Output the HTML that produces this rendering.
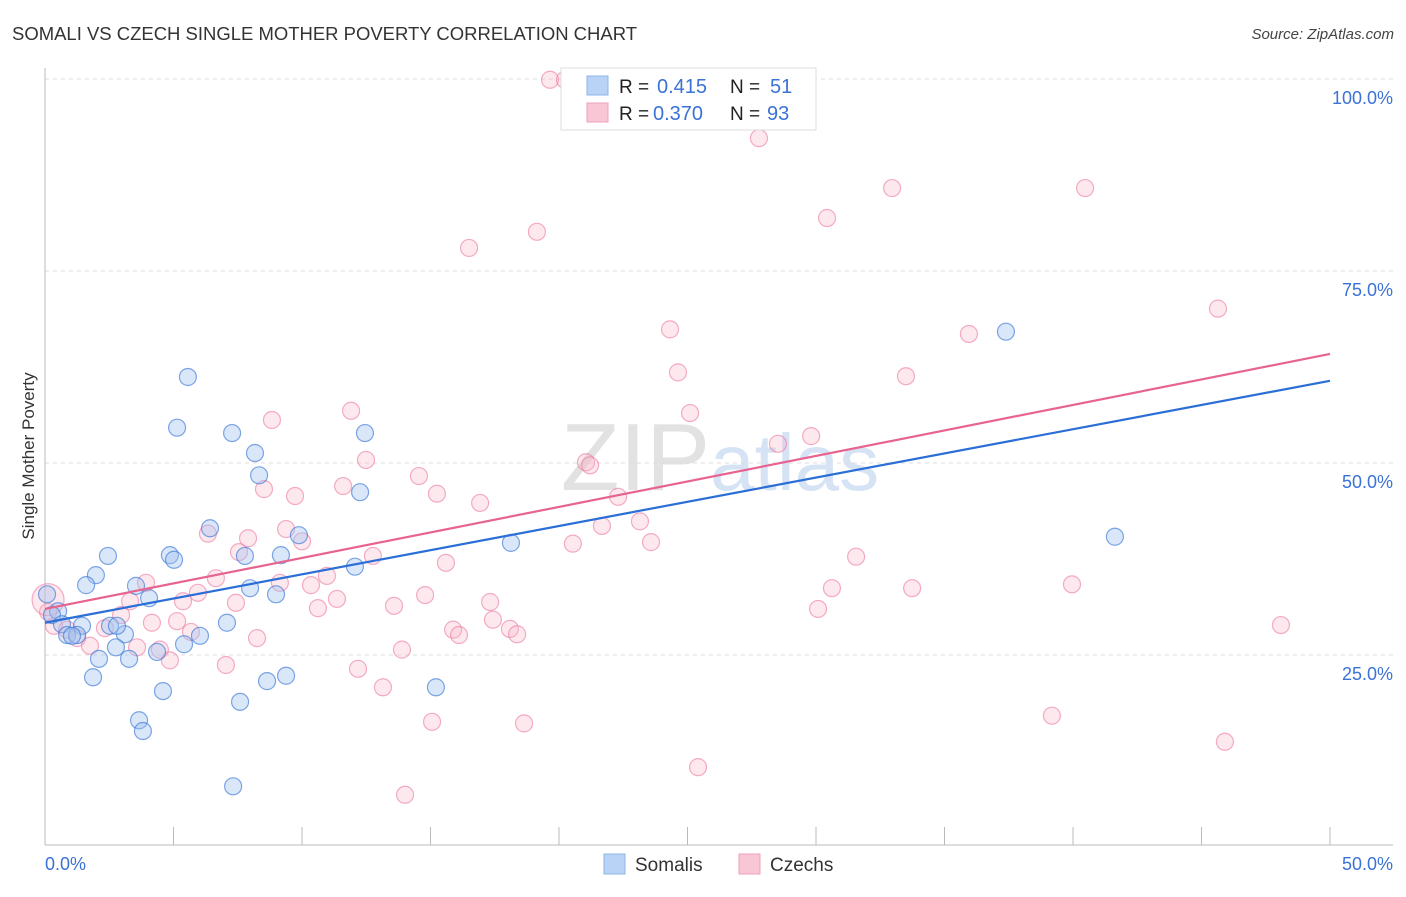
<!DOCTYPE html>
<html><head><meta charset="utf-8"><style>
body{margin:0;background:#fff;font-family:"Liberation Sans",sans-serif;}
svg text{font-family:"Liberation Sans",sans-serif;}
</style></head><body>
<svg id="chart" width="1406" height="892">
<text x="12" y="40" font-size="18" fill="#333" textLength="625" lengthAdjust="spacingAndGlyphs">SOMALI VS CZECH SINGLE MOTHER POVERTY CORRELATION CHART</text>
<text x="1394" y="39" font-size="15" fill="#444" font-style="italic" text-anchor="end">Source: ZipAtlas.com</text>
<text x="720" y="490" font-size="96" fill="#e2e2e2" text-anchor="middle" font-family="Liberation Serif">ZIP<tspan fill="#d5e3f5" font-family="Liberation Sans" font-size="80">atlas</tspan></text>
<text transform="translate(34,456) rotate(-90)" font-size="17" fill="#333" text-anchor="middle">Single Mother Poverty</text>
<g id="grid"></g><g id="pts"></g><g id="lines"></g>
<g>
<rect x="561" y="68" width="255" height="62" fill="#fff" stroke="#ddd"/>
<rect x="587" y="76" width="21" height="19" fill="#b8d3f5" stroke="#8fb4e8"/>
<rect x="587" y="103" width="21" height="19" fill="#f9c6d6" stroke="#f0a0ba"/>
<text x="619" y="93" font-size="19" fill="#222">R =</text>
<text x="657" y="93" font-size="20" fill="#3a72d6">0.415</text>
<text x="730" y="93" font-size="19" fill="#222">N =</text>
<text x="770" y="93" font-size="20" fill="#3a72d6">51</text>
<text x="619" y="120" font-size="19" fill="#222">R =</text>
<text x="653" y="120" font-size="20" fill="#3a72d6">0.370</text>
<text x="730" y="120" font-size="19" fill="#222">N =</text>
<text x="767" y="120" font-size="20" fill="#3a72d6">93</text>
</g>
<g>
<rect x="604" y="854" width="21" height="20" fill="#b8d3f5" stroke="#8fb4e8"/>
<text x="635" y="871" font-size="19" fill="#333">Somalis</text>
<rect x="739" y="854" width="21" height="20" fill="#f9c6d6" stroke="#f0a0ba"/>
<text x="770" y="871" font-size="19" fill="#333">Czechs</text>
</g>
<text x="45" y="870" font-size="18" fill="#3a72d6">0.0%</text>
<text x="1393" y="870" font-size="18" fill="#3a72d6" text-anchor="end">50.0%</text>
</svg>
<script>
const yTicks=[25,50,75,100];
const yTickLabels=["25.0%","50.0%","75.0%","100.0%"];
const somaliX=[5.56,5.14,7.28,12.45,8.17,8.33,12.26,6.42,9.88,18.13,41.63,37.39,2.45,4.86,5.02,7.78,9.18,12.06,1.98,1.60,3.54,4.05,7.98,8.99,0.08,0.51,0.27,0.66,1.44,2.53,3.11,0.86,1.25,1.05,2.80,5.41,4.36,6.03,7.08,2.76,2.10,3.27,1.87,4.59,8.64,9.38,7.59,15.21,3.66,3.81,7.32];
const somaliY=[61.2,54.6,53.9,53.9,51.3,48.4,46.2,41.5,40.6,39.6,40.4,67.1,37.9,38.0,37.4,37.9,38.0,36.5,35.4,34.1,34.0,32.4,33.7,32.9,32.9,30.7,30.2,29.0,28.8,28.8,27.7,27.6,27.6,27.5,28.8,26.4,25.4,27.5,29.2,26.0,24.5,24.5,22.1,20.3,21.6,22.3,18.9,20.8,16.5,15.1,7.9];
const czechX=[19.65,20.23,23.35,24.94,27.78,32.96,40.47,30.43,19.14,16.50,45.64,24.32,35.95,24.63,33.50,25.10,8.83,11.91,28.52,29.81,12.49,21.05,21.21,14.55,8.52,9.73,15.25,11.60,16.93,22.30,6.34,9.38,7.90,10.00,23.15,21.67,23.58,20.54,7.55,12.76,15.60,31.56,6.65,3.93,9.14,10.35,10.97,30.62,33.74,39.96,3.31,5.37,7.43,11.36,17.32,13.58,14.79,30.08,10.62,5.95,2.96,5.14,4.16,17.43,15.88,16.11,18.09,18.37,2.33,0.35,0.12,0.86,1.25,1.75,3.58,4.47,4.86,5.68,8.25,7.04,13.89,12.18,13.15,48.09,39.18,45.91,15.06,18.64,25.41,14.01,0.12];
const czechY=[99.9,99.9,99.9,99.9,92.3,85.8,85.8,81.9,80.1,78.0,70.1,67.4,66.8,61.8,61.3,56.5,55.6,56.8,52.5,53.5,50.4,50.1,49.7,48.3,46.6,45.7,46.0,47.0,44.8,45.6,40.8,41.4,40.2,39.8,42.4,41.8,39.7,39.5,38.4,37.9,37.0,37.8,35.0,34.4,34.4,34.1,35.3,33.7,33.7,34.2,32.0,32.0,31.8,32.3,31.9,31.4,32.8,31.0,31.1,33.1,30.2,29.4,29.2,29.6,28.3,27.6,28.4,27.7,28.5,28.8,30.6,28.3,27.2,26.2,26.0,25.7,24.3,28.0,27.2,23.7,25.7,23.2,20.8,28.9,17.1,13.7,16.3,16.1,10.4,6.8,32.2];
const somaliTrend=[29.2,60.7];
const czechTrend=[31.0,64.2];
const X0=45,X1=1330,Y0=847,YH=768;
const sx=v=>X0+v/50*(X1-X0);
const sy=v=>Y0-v/100*YH;
const NS="http://www.w3.org/2000/svg";
function mk(t,a,p){const e=document.createElementNS(NS,t);for(const k in a)e.setAttribute(k,a[k]);p.appendChild(e);return e;}
const grid=document.getElementById('grid');
yTicks.forEach((t,i)=>{
 const l=mk('line',{x1:45,x2:1393,y1:sy(t),y2:sy(t),stroke:'#ddd','stroke-dasharray':'4,4'},grid);
 
 
 const tx=mk('text',{x:1393,y:sy(t)+25,'font-size':18,fill:'#3a72d6','text-anchor':'end'},grid);
 tx.textContent=yTickLabels[i];
 
 
});
const ax=mk('line',{x1:45,x2:1393,y1:845,y2:845,stroke:'#bbb'},grid);


const ay=mk('line',{x1:45,x2:45,y1:68,y2:845,stroke:'#bbb'},grid);


for(let i=0;i<=10;i++){
 const t=mk('line',{x1:sx(i*5),x2:sx(i*5),y1:827,y2:845,stroke:'#bbb'},grid);
 
 
}
const pts=document.getElementById('pts');
czechX.forEach((v,i)=>{
 const c=mk('circle',{cx:sx(v),cy:sy(czechY[i]),r:i==czechX.length-1?16:8.5,fill:'rgba(248,180,200,0.3)',stroke:'rgba(236,120,160,0.6)','stroke-width':1.2},pts);
 
 
});
somaliX.forEach((v,i)=>{
 const c=mk('circle',{cx:sx(v),cy:sy(somaliY[i]),r:8.5,fill:'rgba(160,195,240,0.4)',stroke:'rgba(60,120,215,0.65)','stroke-width':1.2},pts);
 
 
});
const lines=document.getElementById('lines');
const lb=mk('line',{x1:sx(0),y1:sy(somaliTrend[0]),x2:sx(50),y2:sy(somaliTrend[1]),stroke:'#2a6ed6','stroke-width':2.2},lines);


const lp=mk('line',{x1:sx(0),y1:sy(czechTrend[0]),x2:sx(50),y2:sy(czechTrend[1]),stroke:'#e86490','stroke-width':2.2},lines);


</script>
</body></html>
